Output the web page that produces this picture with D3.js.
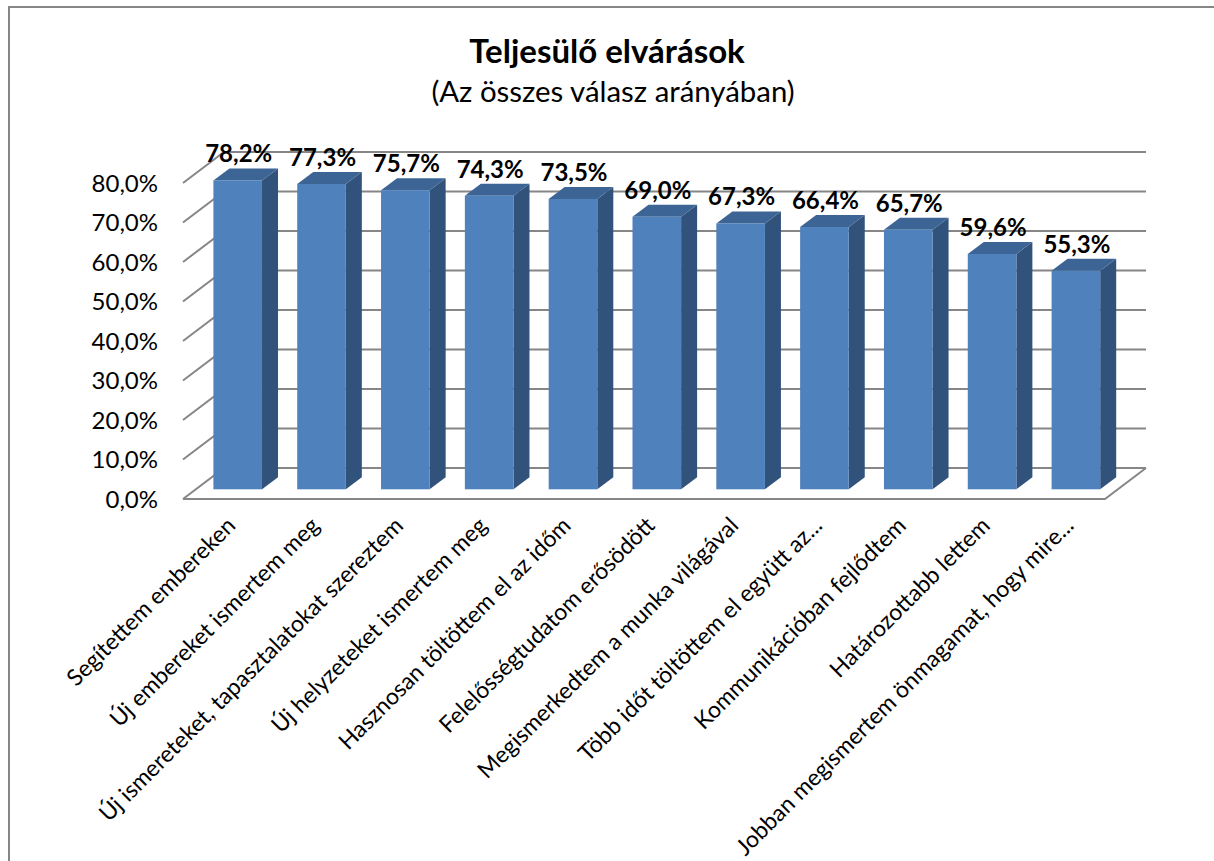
<!DOCTYPE html>
<html>
<head>
  <meta charset="utf-8">
  <script src="https://d3js.org/d3.v7.min.js"></script>
  <style>
    html, body { margin:0; padding:0; background:#fff; }
    svg { display:block; }
    text { font-family:Lato, "Open Sans", sans-serif; fill:#000; }
  </style>
</head>
<body>
  <svg id="chart" width="1214" height="861"></svg>
  <script>
    var categories = [
      "Segítettem embereken", "Új embereket ismertem meg",
      "Új ismereteket, tapasztalatokat szereztem", "Új helyzeteket ismertem meg",
      "Hasznosan töltöttem el az időm", "Felelősségtudatom erősödött",
      "Megismerkedtem a munka világával", "Több időt töltöttem el együtt az...",
      "Kommunikációban fejlődtem", "Határozottabb lettem",
      "Jobban megismertem önmagamat, hogy mire..."
    ];
    var values = [78.2, 77.3, 75.7, 74.3, 73.5, 69.0, 67.3, 66.4, 65.7, 59.6, 55.3];
    var yTicks = [0, 10, 20, 30, 40, 50, 60, 70, 80];
    var fmt = v => v.toFixed(1).replace(".", ",") + "%";

    var svg = d3.select("#chart");
    var left = 183, right = 1105, floorY = 499;
    var depthX = 41, depthY = -31;           // back wall offset
    var barDepthX = 16, barDepthY = -12;     // depth of a bar
    var barShiftX = 12.8, barShiftY = -9.7;  // bar front from the chart front

    var x = d3.scaleBand().domain(categories).range([left, right]).padding(0.42).paddingOuter(0.21);
    var y = d3.scaleLinear().domain([0, 80]).range([floorY, floorY - 316]);

    // frame is cropped: only its top and left sides are in the picture
    svg.append("path").attr("d", d3.line()([[9, 861], [9, 7], [1214, 7]]))
        .attr("fill", "none").attr("stroke", "#868686").attr("stroke-width", 2);

    // floor, side wall and back wall lines
    var grid = svg.append("g").attr("fill", "none").attr("stroke", "#868686").attr("stroke-width", 2);
    grid.append("path").attr("d", d3.line()([
      [left, floorY], [right, floorY], [right + depthX, floorY + depthY]
    ]));
    yTicks.forEach(function(t) {
      grid.append("path").attr("d", d3.line()([
        [left, y(t)], [left + depthX, y(t) + depthY], [right + depthX, y(t) + depthY]
      ]));
    });

    // bars
    var bars = svg.append("g").selectAll("g").data(values).enter().append("g")
        .attr("transform", (d, i) => "translate(" + (x(categories[i]) + barShiftX) + "," + barShiftY + ")");
    var w = x.bandwidth();
    bars.append("path").attr("fill", "#31527b")
        .attr("d", d => d3.line()([[w, y(0)], [w, y(d)], [w + barDepthX, y(d) + barDepthY], [w + barDepthX, y(0) + barDepthY]]));
    bars.append("path").attr("fill", "#3c6494")
        .attr("d", d => d3.line()([[0, y(d)], [barDepthX, y(d) + barDepthY], [w + barDepthX, y(d) + barDepthY], [w, y(d)]]));
    bars.append("rect").attr("fill", "#4f81bd")
        .attr("x", 0).attr("width", w)
        .attr("y", d => y(d)).attr("height", d => y(0) - y(d));

    // value labels
    bars.append("text").text(fmt)
        .attr("x", w / 2 + 1).attr("y", d => y(d) - 18)
        .attr("text-anchor", "middle").attr("font-size", 24).attr("font-weight", 700);

    // y tick labels
    svg.append("g").selectAll("text").data(yTicks).enter().append("text")
        .text(fmt)
        .attr("x", 158).attr("y", d => y(d) + 8.5)
        .attr("text-anchor", "end").attr("font-size", 24);

    // category labels
    svg.append("g").selectAll("text").data(categories).enter().append("text")
        .text(d => d)
        .attr("text-anchor", "end").attr("font-size", 23)
        .attr("transform", d => "translate(" + (x(d) + w / 2 + 12) + ",527) rotate(-45)");

    svg.append("text").text("Teljesülő elvárások")
        .attr("x", 607).attr("y", 63).attr("text-anchor", "middle")
        .attr("font-size", 33).attr("font-weight", 700);
    svg.append("text").text("(Az összes válasz arányában)")
        .attr("x", 613).attr("y", 102).attr("text-anchor", "middle").attr("font-size", 29.4);
  </script>
</body>
</html>
